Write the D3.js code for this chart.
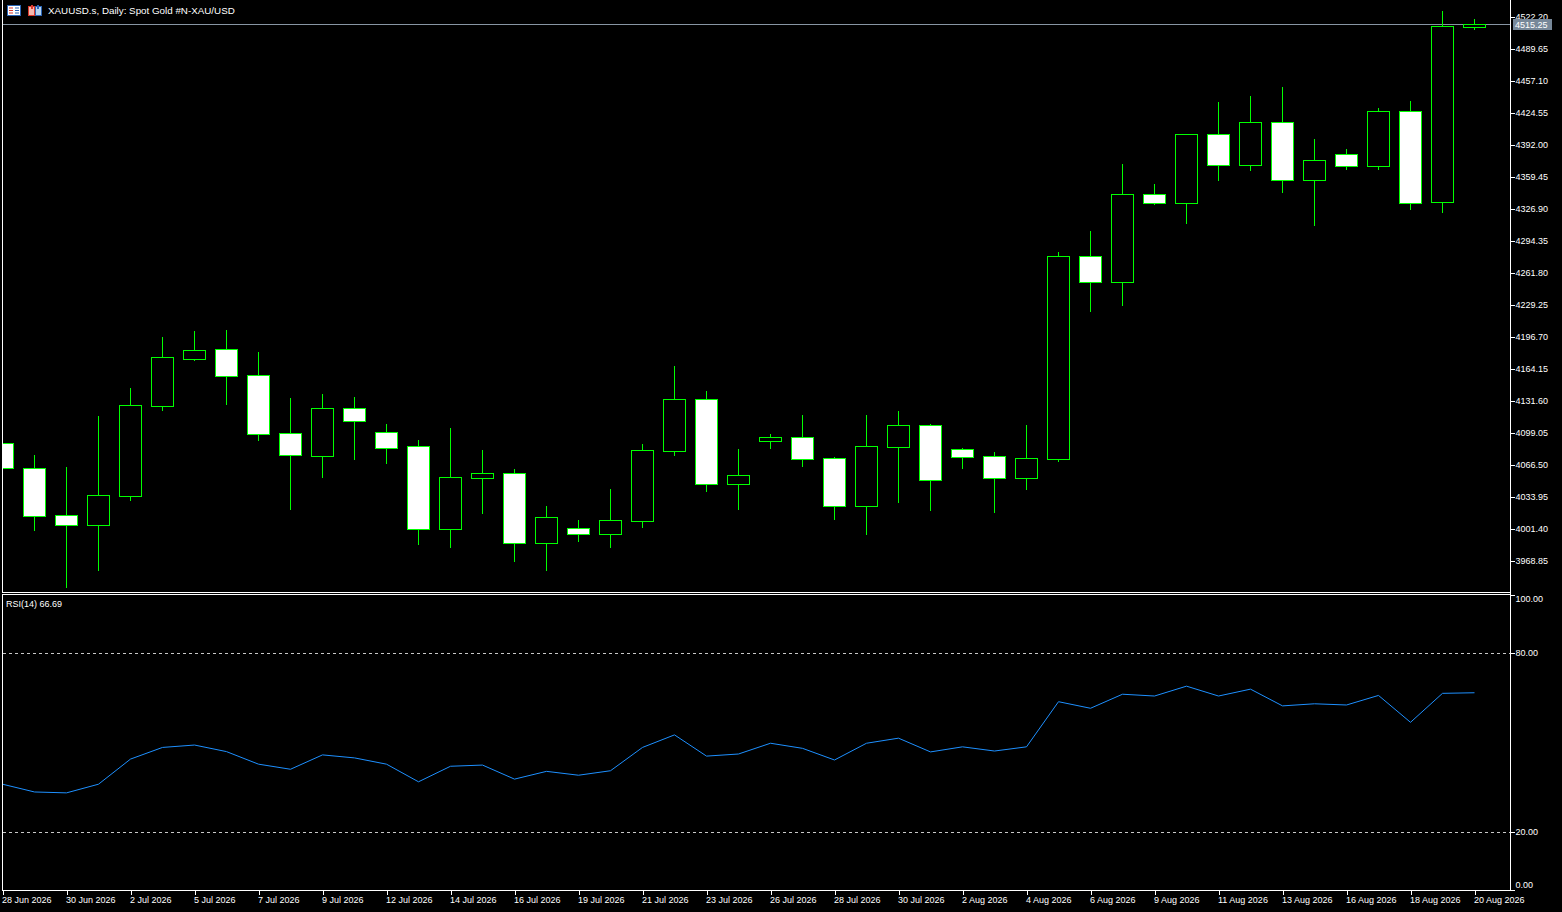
<!DOCTYPE html>
<html>
<head>
<meta charset="utf-8">
<title>XAUUSD.s Daily</title>
<script src="https://cdn.jsdelivr.net/npm/d3@7"></script>
<style>
    html, body { margin: 0; padding: 0; background: #000; overflow: hidden; }
    svg { display: block; }
    text { font-family: 'Liberation Sans', Arial, sans-serif; font-size: 9px; fill: #fff; }
</style>
</head>
<body>
<div id="chart"></div>
<script>
// bars (broker days, Sun-Fri)
const dates = [
    '2026-06-28', '2026-06-29', '2026-06-30', '2026-07-01', '2026-07-02', '2026-07-03',
    '2026-07-05', '2026-07-06', '2026-07-07', '2026-07-08', '2026-07-09', '2026-07-10',
    '2026-07-12', '2026-07-13', '2026-07-14', '2026-07-15', '2026-07-16', '2026-07-17',
    '2026-07-19', '2026-07-20', '2026-07-21', '2026-07-22', '2026-07-23', '2026-07-24',
    '2026-07-26', '2026-07-27', '2026-07-28', '2026-07-29', '2026-07-30', '2026-07-31',
    '2026-08-02', '2026-08-03', '2026-08-04', '2026-08-05', '2026-08-06', '2026-08-07',
    '2026-08-09', '2026-08-10', '2026-08-11', '2026-08-12', '2026-08-13', '2026-08-14',
    '2026-08-16', '2026-08-17', '2026-08-18', '2026-08-19', '2026-08-20'
];

const open = [
    4088.3, 4062.8, 4015.0, 4005.5, 4035.0, 4126.5, 4174.3, 4183.9, 4157.4, 4098.4,
    4075.6, 4123.9, 4099.4, 4085.2, 4001.4, 4053.3, 4057.8, 3986.6, 4001.8, 3995.7,
    4009.5, 4080.7, 4133.0, 4047.2, 4090.9, 4094.4, 4073.0, 4024.8, 4084.8, 4106.6,
    4082.2, 4075.0, 4053.3, 4072.3, 4278.5, 4252.0, 4341.6, 4333.0, 4402.6, 4371.7,
    4414.8, 4356.4, 4382.2, 4370.6, 4426.0, 4333.4, 4512.0
];
const high = [
    4091.6, 4076.4, 4064.2, 4116.0, 4144.5, 4196.4, 4202.5, 4203.5, 4181.1, 4134.3,
    4138.4, 4135.4, 4107.9, 4091.6, 4103.8, 4081.5, 4062.1, 4024.5, 4010.3, 4041.8,
    4087.6, 4166.9, 4141.5, 4082.5, 4097.7, 4117.1, 4074.3, 4117.1, 4121.1, 4107.9,
    4083.5, 4079.4, 4106.9, 4282.9, 4304.2, 4372.4, 4352.0, 4402.9, 4435.4, 4441.5,
    4450.7, 4397.8, 4387.6, 4429.3, 4436.5, 4528.0, 4519.9
];
const low = [
    4060.1, 4000.1, 3942.4, 3959.7, 4030.6, 4122.1, 4173.0, 4128.2, 4091.6, 4021.4,
    4054.0, 4072.3, 4068.2, 3985.8, 3982.8, 4017.7, 3968.9, 3959.4, 3988.9, 3983.1,
    4003.4, 4076.7, 4039.7, 4021.4, 4083.5, 4065.2, 4011.3, 3996.0, 4028.6, 4020.4,
    4063.1, 4018.4, 4041.8, 4070.3, 4223.2, 4229.3, 4331.7, 4312.7, 4356.1, 4366.3,
    4343.9, 4310.3, 4367.3, 4367.3, 4326.6, 4323.9, 4510.0
];
const close = [
    4062.8, 4014.6, 4005.5, 4035.4, 4126.9, 4175.7, 4182.9, 4157.0, 4098.0, 4076.7,
    4123.9, 4111.3, 4083.8, 4001.4, 4053.7, 4057.8, 3986.6, 4013.0, 3995.7, 4009.9,
    4081.1, 4133.0, 4047.2, 4055.7, 4094.4, 4072.6, 4024.8, 4085.2, 4106.6, 4051.2,
    4074.6, 4053.3, 4073.0, 4278.5, 4252.7, 4341.6, 4333.0, 4402.6, 4371.7, 4414.8,
    4356.4, 4376.1, 4370.6, 4426.0, 4333.0, 4512.7, 4515.25
];

// RSI(14)
const rsi = [
    36.1, 33.5, 33.2, 36.1, 44.5, 48.4, 49.2, 47.0, 42.8, 41.1,
    45.9, 44.9, 42.8, 36.9, 42.1, 42.5, 37.8, 40.4, 39.1, 40.6,
    48.4, 52.6, 45.5, 46.2, 49.8, 48.1, 44.2, 49.8, 51.5, 46.9,
    48.6, 47.2, 48.6, 63.7, 61.5, 66.2, 65.6, 68.9, 65.6, 67.9,
    62.3, 63.0, 62.6, 65.8, 56.8, 66.5, 66.69
];

// axis values
const priceTicks = [
    3968.85, 4001.40, 4033.95, 4066.50, 4099.05, 4131.60, 4164.15, 4196.70, 4229.25,
    4261.80, 4294.35, 4326.90, 4359.45, 4392.00, 4424.55, 4457.10, 4489.65, 4522.20
];
const rsiTicks = [100, 80, 20, 0];
const rsiLevels = [80, 20];
const bid = 4515.25;
const title = 'XAUUSD.s, Daily:  Spot Gold #N-XAU/USD';

const W = 1562, H = 912;
const axisX = 1510.5;
const green = '#00ff00';

function layout() {
    const svg = d3.select('#chart')
        .append('svg')
        .attr('width', W)
        .attr('height', H);

    svg.append('rect')
        .attr('width', W)
        .attr('height', H)
        .attr('fill', '#000');

    const defs = svg.append('defs');
    defs.append('clipPath').attr('id', 'clip-main')
        .append('rect').attr('x', 3).attr('y', 0).attr('width', 1507).attr('height', 592);
    defs.append('clipPath').attr('id', 'clip-rsi')
        .append('rect').attr('x', 3).attr('y', 595).attr('width', 1507).attr('height', 295);

    return svg;
}

function frames(svg) {
    const g = svg.append('g')
        .attr('stroke', '#fff')
        .attr('stroke-width', 1)
        .attr('shape-rendering', 'crispEdges');

    //main panel
    g.append('line').attr('x1', 2.5).attr('x2', 2.5).attr('y1', 0).attr('y2', 592.5);
    g.append('line').attr('x1', 2).attr('x2', axisX).attr('y1', 592.5).attr('y2', 592.5);

    //rsi panel
    g.append('line').attr('x1', 2.5).attr('x2', 2.5).attr('y1', 594.5).attr('y2', 890.5);
    g.append('line').attr('x1', 2).attr('x2', axisX).attr('y1', 594.5).attr('y2', 594.5);

    //right axis
    g.append('line').attr('x1', axisX).attr('x2', axisX).attr('y1', 0).attr('y2', 891);
}

function header(svg) {
    //table icon
    const i1 = svg.append('g').attr('transform', 'translate(7,5)');
    i1.append('rect').attr('x', 0.5).attr('y', 0.5).attr('width', 13).attr('height', 10)
        .attr('fill', '#fff').attr('stroke', '#2a64b4');
    [2.5, 5, 7.5].forEach(yy => {
        i1.append('rect').attr('x', 2).attr('y', yy).attr('width', 4).attr('height', 1).attr('fill', '#d9382c');
        i1.append('rect').attr('x', 8).attr('y', yy).attr('width', 4).attr('height', 1).attr('fill', '#2a64b4');
    });

    //chart icon
    const i2 = svg.append('g').attr('transform', 'translate(28,5)');
    i2.append('rect').attr('x', 0.5).attr('y', 1.5).attr('width', 6).attr('height', 9)
        .attr('fill', '#f5b9b0').attr('stroke', '#d9382c');
    i2.append('rect').attr('x', 7.5).attr('y', 1.5).attr('width', 6).attr('height', 9)
        .attr('fill', '#b5d3f0').attr('stroke', '#2a64b4');
    i2.append('rect').attr('x', 3).attr('y', 0).attr('width', 2).attr('height', 4).attr('fill', '#d9382c');
    i2.append('rect').attr('x', 9).attr('y', 0).attr('width', 2).attr('height', 4).attr('fill', '#2a64b4');

    svg.append('text')
        .attr('x', 48)
        .attr('y', 14)
        .style('font-size', '9.8px')
        .text(title);
}

function drawCandles(svg, x, y) {
    const data = dates.map((d, i) => ({
        date: d,
        o: open[i], h: high[i], l: low[i], c: close[i]
    }));

    const g = svg.append('g')
        .attr('clip-path', 'url(#clip-main)')
        .attr('shape-rendering', 'crispEdges');

    //bid line
    g.append('line')
        .attr('x1', 0).attr('x2', axisX)
        .attr('y1', Math.round(y(bid)) + 0.5).attr('y2', Math.round(y(bid)) + 0.5)
        .attr('stroke', '#8795a3');

    const candle = g.selectAll('g.candle')
        .data(data)
        .join('g')
        .classed('candle', true);

    //wicks
    candle.append('line')
        .attr('x1', d => x(d.date)).attr('x2', d => x(d.date))
        .attr('y1', d => Math.round(y(d.h))).attr('y2', d => Math.round(y(d.l)) + 1)
        .attr('stroke', green);

    //bodies: bull hollow, bear white
    candle.append('rect')
        .attr('x', d => x(d.date) - 11)
        .attr('y', d => Math.round(y(Math.max(d.o, d.c))) + 0.5)
        .attr('width', 22)
        .attr('height', d => Math.max(2, Math.round(y(Math.min(d.o, d.c))) - Math.round(y(Math.max(d.o, d.c)))))
        .attr('fill', d => d.c >= d.o ? '#000' : '#fff')
        .attr('stroke', green);
}

function priceAxis(svg, y) {
    const axis = d3.axisRight(y)
        .tickValues(priceTicks)
        .tickFormat(d3.format('.2f'))
        .tickSize(4)
        .tickPadding(1);

    const g = svg.append('g')
        .attr('transform', `translate(${axisX},0)`)
        .call(axis);
    g.select('.domain').remove();
    g.selectAll('.tick line').attr('stroke', '#fff').attr('shape-rendering', 'crispEdges');
    g.selectAll('.tick text')
        .attr('fill', '#fff')
        .style('font-family', "'Liberation Sans', Arial, sans-serif")
        .style('font-size', '9px');

    //bid label
    const by = Math.round(y(bid));
    svg.append('rect')
        .attr('x', 1513).attr('y', by - 5)
        .attr('width', 39).attr('height', 11)
        .attr('fill', '#778899');
    svg.append('text')
        .attr('x', 1515).attr('y', by + 3.5)
        .attr('fill', '#f0f0f0')
        .text(d3.format('.2f')(bid));
}

function timeAxis(svg, x) {
    const parse = d3.utcParse('%Y-%m-%d');
    const fmt = d3.utcFormat('%-d %b %Y');
    const axis = d3.axisBottom(x)
        .tickValues(dates.filter((d, i) => i % 2 === 0))
        .tickFormat(d => fmt(parse(d)))
        .tickSize(4)
        .tickPadding(2);

    const g = svg.append('g')
        .attr('transform', 'translate(0,890.5)')
        .call(axis);
    g.select('.domain').remove();
    svg.append('line')
        .attr('x1', 2).attr('x2', axisX)
        .attr('y1', 890.5).attr('y2', 890.5)
        .attr('stroke', '#fff');
    g.selectAll('.tick line').attr('stroke', '#fff').attr('shape-rendering', 'crispEdges');
    g.selectAll('.tick text')
        .attr('fill', '#fff')
        .attr('text-anchor', 'start')
        .attr('x', -1)
        .style('font-family', "'Liberation Sans', Arial, sans-serif")
        .style('font-size', '9px');
}

function drawRsi(svg, x) {
    const r = d3.scaleLinear()
        .domain([0, 100])
        .range([892.1, 593.2]);

    //levels
    svg.append('g')
        .selectAll('line')
        .data(rsiLevels)
        .join('line')
        .attr('x1', 3).attr('x2', axisX)
        .attr('y1', d => Math.round(r(d)) + 0.5).attr('y2', d => Math.round(r(d)) + 0.5)
        .attr('stroke', '#c8c8c8')
        .attr('stroke-dasharray', '3,3')
        .attr('shape-rendering', 'crispEdges');

    //line
    const line = d3.line()
        .x((d, i) => x(dates[i]))
        .y(d => r(d));
    svg.append('path')
        .datum(rsi)
        .attr('clip-path', 'url(#clip-rsi)')
        .attr('d', line)
        .attr('fill', 'none')
        .attr('stroke', '#1e90ff')
        .attr('stroke-width', 1);

    //axis, end labels kept inside the panel
    const axis = d3.axisRight(r)
        .tickValues(rsiTicks)
        .tickFormat(d3.format('.2f'))
        .tickSize(4)
        .tickPadding(1);
    const g = svg.append('g')
        .attr('transform', `translate(${axisX},0)`)
        .call(axis);
    g.select('.domain').remove();
    g.selectAll('.tick')
        .attr('transform', d => `translate(0,${Math.min(890.5, Math.max(595.5, Math.round(r(d)) + 0.5))})`);
    g.selectAll('.tick line').attr('stroke', '#fff').attr('shape-rendering', 'crispEdges');
    g.selectAll('.tick text')
        .attr('fill', '#fff')
        .attr('y', d => d === 100 ? 4 : d === 0 ? -5 : 0)
        .style('font-family', "'Liberation Sans', Arial, sans-serif")
        .style('font-size', '9px');

    svg.append('text')
        .attr('x', 6).attr('y', 607)
        .text(`RSI(14) ${d3.format('.2f')(rsi[rsi.length - 1])}`);
}

function chart() {
    const svg = layout();

    //scales
    const x = d3.scalePoint()
        .domain(dates)
        .range([2.5, 2.5 + 32 * (dates.length - 1)]);
    const y = d3.scaleLinear()
        .domain([3968.85, 4522.20])
        .range([560.7, 16.7]);

    drawCandles(svg, x, y);
    drawRsi(svg, x);
    frames(svg);
    priceAxis(svg, y);
    timeAxis(svg, x);
    header(svg);
}

chart();
</script>
</body>
</html>
